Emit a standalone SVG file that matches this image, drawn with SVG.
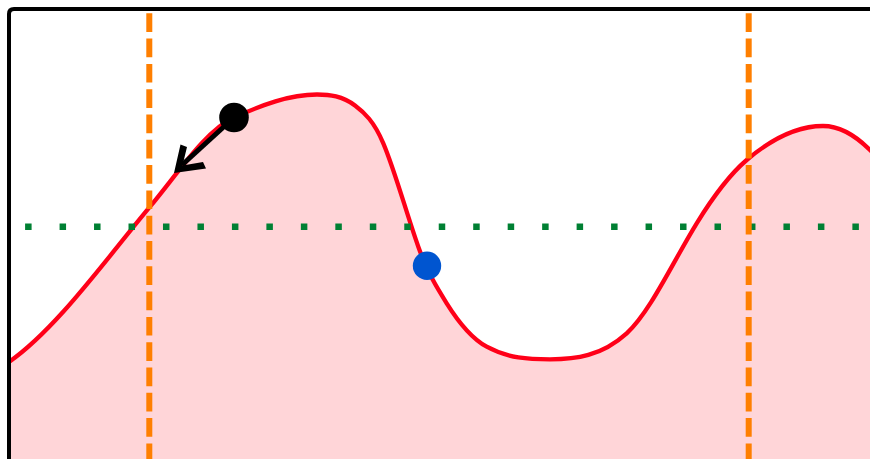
<svg xmlns="http://www.w3.org/2000/svg" width="870" height="459" viewBox="0 0 870 459">
  <style>
    .curve { fill: none; stroke: #ff0018; stroke-width: 4.3; stroke-linejoin: round; }
    .area { fill: #ffd5d8; stroke: none; }
    .vline { stroke: #ff7f00; stroke-width: 6; stroke-dasharray: 18.7 6.6; fill: none; }
    .hline { stroke: #008033; stroke-width: 6.5; stroke-dasharray: 6.5 27.97; fill: none; }
    .frame { fill: none; stroke: #000; stroke-width: 4; }
  </style>
  <defs>
    <path id="wave" d="M9,362 C56,329.1 103,263.1 150,206.7 C178,173.1 206,130.1 234,117.5 C261.67,105.05 289.33,94.5 317,94.5 C329.67,94.5 342.33,96 355,105.5 C364.43,112.58 373.87,121.13 383.3,143.3 C394.97,170.72 406.63,214.03 418.3,246.7 C427.77,273.21 437.23,288.15 446.7,303.3 C460.03,324.63 473.37,339.37 486.7,346.7 C507.8,358.3 528.9,359.3 550,359.3 C575.57,359.3 601.13,356.31 626.7,333.3 C650.03,312.3 673.37,261.1 696.7,223.3 C713.37,196.3 730.03,174.17 746.7,160 C772.13,138.38 797.57,126 823,126 C838.67,126 854.33,134.33 870,150 C880,160 890,172 900,185"/>
  </defs>
  <rect width="870" height="459" fill="#ffffff"/>
  <g id="area">
    <path class="area" d="M9,362 C56,329.1 103,263.1 150,206.7 C178,173.1 206,130.1 234,117.5 C261.67,105.05 289.33,94.5 317,94.5 C329.67,94.5 342.33,96 355,105.5 C364.43,112.58 373.87,121.13 383.3,143.3 C394.97,170.72 406.63,214.03 418.3,246.7 C427.77,273.21 437.23,288.15 446.7,303.3 C460.03,324.63 473.37,339.37 486.7,346.7 C507.8,358.3 528.9,359.3 550,359.3 C575.57,359.3 601.13,356.31 626.7,333.3 C650.03,312.3 673.37,261.1 696.7,223.3 C713.37,196.3 730.03,174.17 746.7,160 C772.13,138.38 797.57,126 823,126 C838.67,126 854.33,134.33 870,150 C880,160 890,172 900,185 L900,470 L9,470 Z"/>
  </g>
  <g id="curve">
    <use href="#wave" class="curve"/>
  </g>
  <g id="level-line">
    <line class="hline" x1="25.1" y1="226.7" x2="875" y2="226.7"/>
  </g>
  <g id="bounds">
    <line class="vline" x1="149.3" y1="13.3" x2="149.3" y2="470"/>
    <line class="vline" x1="748.7" y1="13.3" x2="748.7" y2="470"/>
  </g>
  <g id="arrow">
    <line x1="234" y1="117.5" x2="182" y2="165" stroke="#000" stroke-width="5"/>
    <polygon points="174,173 180.5,144.5 187,147 182.5,165.5 203,162 206,168.5" fill="#000"/>
  </g>
  <g id="black-dot">
    <circle cx="234" cy="117.5" r="14.8" fill="#000"/>
  </g>
  <g id="blue-dot">
    <circle cx="427" cy="265.8" r="14.2" fill="#0055d0"/>
  </g>
  <g id="frame">
    <path class="frame" d="M9,470 L9,14 Q9,9 14,9 L880,9"/>
  </g>
</svg>
